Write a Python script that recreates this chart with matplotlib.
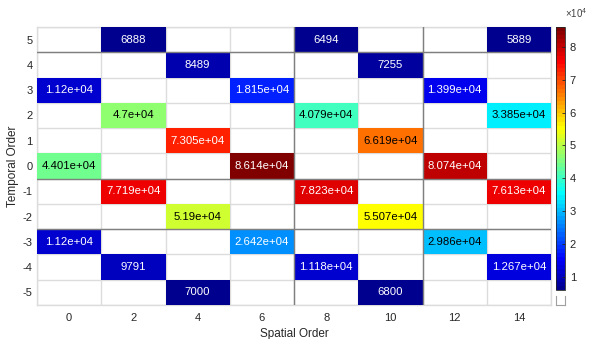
import numpy as np
import matplotlib
matplotlib.use("Agg")
import matplotlib.pyplot as plt
from matplotlib.colors import Normalize, ListedColormap

plt.rcParams['font.family'] = ['Liberation Sans', 'DejaVu Sans']
plt.rcParams['mathtext.fontset'] = 'custom'
plt.rcParams['mathtext.rm'] = 'Liberation Sans'
plt.rcParams['mathtext.it'] = 'Liberation Sans'

spatial_order = [0, 2, 4, 6, 8, 10, 12, 14]
temporal_order = [5, 4, 3, 2, 1, 0, -1, -2, -3, -4, -5]
N = None
values = [
    [N, 6888, N, N, 6494, N, N, 5889],
    [N, N, 8489, N, N, 7255, N, N],
    [11200, N, N, 18150, N, N, 13990, N],
    [N, 47000, N, N, 40790, N, N, 33850],
    [N, N, 73050, N, N, 66190, N, N],
    [44010, N, N, 86140, N, N, 80740, N],
    [N, 77190, N, N, 78230, N, N, 76130],
    [N, N, 51900, N, N, 55070, N, N],
    [11200, N, N, 26420, N, N, 29860, N],
    [N, 9791, N, N, 11180, N, N, 12670],
    [N, N, 7000, N, N, 6800, N, N],
]
dark_x_lines = [7, 11]
dark_y_lines = [4.5, -0.5, -2.5]


def matlab_jet(m=64):
    n = int(np.ceil(m / 4))
    u = np.concatenate([np.arange(1, n + 1) / n, np.ones(n - 1), np.arange(n, 0, -1) / n])
    g = int(np.ceil(n / 2)) - (1 if m % 4 == 1 else 0) + np.arange(1, len(u) + 1)
    r = g + n
    b = g - n
    J = np.zeros((m, 3))
    for idx, ch in ((r, 0), (g, 1), (b, 2)):
        ok = (idx >= 1) & (idx <= m)
        J[idx[ok] - 1, ch] = u[ok]
    return ListedColormap(J)


Z = np.array([[np.nan if v is None else v for v in row] for row in values], dtype=float)
Zm = np.ma.masked_invalid(Z)

xs = np.array(spatial_order, dtype=float)
ys = np.array(temporal_order, dtype=float)
dx = xs[1] - xs[0]
x_edges = np.concatenate([xs - dx / 2, [xs[-1] + dx / 2]])
y_edges = np.concatenate([ys + 0.5, [ys[-1] - 0.5]])

fig = plt.figure(figsize=(5.91, 3.39), dpi=100)
ax = fig.add_axes([37 / 591, 34 / 339, 514 / 591, 278 / 339])

vmin, vmax = np.nanmin(Z), np.nanmax(Z)
norm = Normalize(vmin=vmin, vmax=vmax)
cmap = matlab_jet(64)

for xe in x_edges:
    ax.axvline(xe, color='#dcdcdc', lw=1.0, zorder=2)
for ye in y_edges:
    ax.axhline(ye, color='#dcdcdc', lw=1.0, zorder=2)
mesh = ax.pcolormesh(x_edges, y_edges, Zm, cmap=cmap, norm=norm, zorder=3)
for xl in dark_x_lines:
    ax.axvline(xl, color='#7f7f7f', lw=1.0, zorder=4)
for yl in dark_y_lines:
    ax.axhline(yl, color='#7f7f7f', lw=1.0, zorder=4)

for i, yv in enumerate(temporal_order):
    for j, xv in enumerate(spatial_order):
        v = values[i][j]
        if v is None:
            continue
        r, g, b, _ = cmap(norm(v))
        lum = 0.2989 * r + 0.587 * g + 0.114 * b
        col = 'black' if lum > 0.5 else 'white'
        ax.text(xv, yv, '{:.4g}'.format(v), ha='center', va='center',
                fontsize=8.2, color=col, zorder=5)

ax.set_xlim(x_edges[0], x_edges[-1])
ax.set_ylim(y_edges[-1], y_edges[0])
ax.set_xticks(spatial_order)
ax.set_xticklabels([str(s) for s in spatial_order])
ax.set_yticks(temporal_order)
ax.set_yticklabels([str(t) for t in temporal_order])
ax.tick_params(axis='x', length=0, labelsize=8, colors='#262626', pad=6)
ax.tick_params(axis='y', length=0, labelsize=8, colors='#262626', pad=3)
for sp in ax.spines.values():
    sp.set_color('#dcdcdc')
    sp.set_linewidth(1.0)
ax.set_xlabel('Spatial Order', fontsize=8.5, color='#262626', labelpad=3)
ax.set_ylabel('Temporal Order', fontsize=8.5, color='#262626', labelpad=3)

# colorbar
cax = fig.add_axes([556 / 591, 49 / 339, 9 / 591, 263 / 339])
cb = fig.colorbar(mesh, cax=cax)
cb.set_ticks([1e4 * k for k in range(1, 9)])
cb.set_ticklabels([str(k) for k in range(1, 9)])
cb.ax.tick_params(direction='in', length=2.5, labelsize=8, colors='#262626', width=0.6)
cb.outline.set_edgecolor('#262626')
cb.outline.set_linewidth(0.6)
fig.text(565 / 591, 1 - 18 / 339, r'$\times 10^{4}$', fontsize=7, color='#404040',
         ha='left', va='baseline')

# NaN indicator box
nax = fig.add_axes([556 / 591, 34 / 339, 9 / 591, 9 / 339])
nax.set_xticks([])
nax.set_yticks([])
nax.spines['top'].set_visible(False)
for k in ['left', 'right', 'bottom']:
    nax.spines[k].set_color('#a0a0a0')
    nax.spines[k].set_linewidth(0.8)

fig.savefig('out.png', dpi=100)
